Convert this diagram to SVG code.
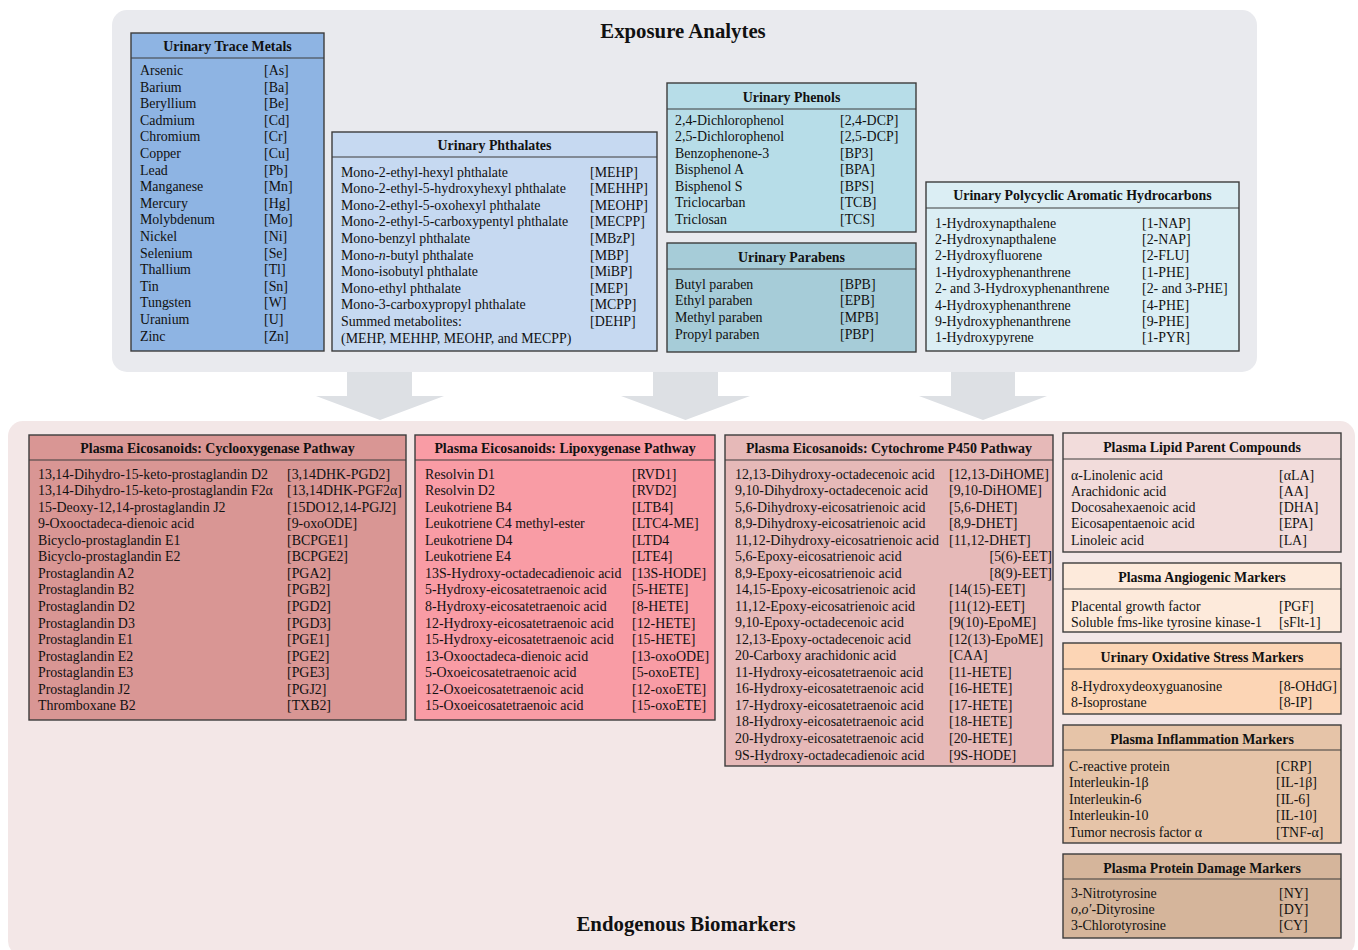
<svg xmlns="http://www.w3.org/2000/svg" width="1358" height="950" viewBox="0 0 1358 950">
<style>
text{font-family:"Liberation Serif","Times New Roman",serif;fill:#111}
.it{font-size:13.9px}
.hd{font-size:13.9px;font-weight:bold;text-anchor:middle}
.pt{font-size:20.8px;font-weight:bold;text-anchor:middle}
.bx{stroke:#3c3c3c;stroke-width:1.4}
.dv{stroke:#3c3c3c;stroke-width:1.2}
.arr{fill:#dde0e4}
.i{font-style:italic}
</style>
<rect x="112" y="10" width="1145" height="362" rx="15" fill="#e9eaee"/>
<rect x="8" y="421" width="1347" height="535" rx="15" fill="#f3e7e7"/>
<g id="connectors">
<polygon class="arr" points="347,372 412,372 412,396 444,396 380,420 316,396 347,396"/>
<polygon class="arr" points="653,372 718,372 718,396 750,396 685.5,420 621,396 653,396"/>
<polygon class="arr" points="951,372 1015,372 1015,396 1047,396 983,420 919,396 951,396"/>
</g>
<text class="pt" x="683" y="38">Exposure Analytes</text>
<text class="pt" x="686" y="931">Endogenous Biomarkers</text>

<g id="trace-metals">
<rect class="bx" x="131" y="33" width="193" height="318" fill="#8eb4e3"/>
<line class="dv" x1="131" y1="58" x2="324" y2="58"/>
<text class="hd" x="227.5" y="50.5">Urinary Trace Metals</text>
<text class="it"><tspan x="140" y="75">Arsenic</tspan><tspan x="140" dy="16.6">Barium</tspan><tspan x="140" dy="16.6">Beryllium</tspan><tspan x="140" dy="16.6">Cadmium</tspan><tspan x="140" dy="16.6">Chromium</tspan><tspan x="140" dy="16.6">Copper</tspan><tspan x="140" dy="16.6">Lead</tspan><tspan x="140" dy="16.6">Manganese</tspan><tspan x="140" dy="16.6">Mercury</tspan><tspan x="140" dy="16.6">Molybdenum</tspan><tspan x="140" dy="16.6">Nickel</tspan><tspan x="140" dy="16.6">Selenium</tspan><tspan x="140" dy="16.6">Thallium</tspan><tspan x="140" dy="16.6">Tin</tspan><tspan x="140" dy="16.6">Tungsten</tspan><tspan x="140" dy="16.6">Uranium</tspan><tspan x="140" dy="16.6">Zinc</tspan></text>
<text class="it"><tspan x="264" y="75">[As]</tspan><tspan x="264" dy="16.6">[Ba]</tspan><tspan x="264" dy="16.6">[Be]</tspan><tspan x="264" dy="16.6">[Cd]</tspan><tspan x="264" dy="16.6">[Cr]</tspan><tspan x="264" dy="16.6">[Cu]</tspan><tspan x="264" dy="16.6">[Pb]</tspan><tspan x="264" dy="16.6">[Mn]</tspan><tspan x="264" dy="16.6">[Hg]</tspan><tspan x="264" dy="16.6">[Mo]</tspan><tspan x="264" dy="16.6">[Ni]</tspan><tspan x="264" dy="16.6">[Se]</tspan><tspan x="264" dy="16.6">[Tl]</tspan><tspan x="264" dy="16.6">[Sn]</tspan><tspan x="264" dy="16.6">[W]</tspan><tspan x="264" dy="16.6">[U]</tspan><tspan x="264" dy="16.6">[Zn]</tspan></text>
</g>

<g id="phthalates">
<rect class="bx" x="332" y="132" width="325" height="219" fill="#c6d9f1"/>
<line class="dv" x1="332" y1="157" x2="657" y2="157"/>
<text class="hd" x="494.5" y="149.5">Urinary Phthalates</text>
<text class="it"><tspan x="341" y="176.5">Mono-2-ethyl-hexyl phthalate</tspan><tspan x="341" dy="16.6">Mono-2-ethyl-5-hydroxyhexyl phthalate</tspan><tspan x="341" dy="16.6">Mono-2-ethyl-5-oxohexyl phthalate</tspan><tspan x="341" dy="16.6">Mono-2-ethyl-5-carboxypentyl phthalate</tspan><tspan x="341" dy="16.6">Mono-benzyl phthalate</tspan><tspan x="341" dy="16.6">Mono-<tspan class="i">n</tspan>-butyl phthalate</tspan><tspan x="341" dy="16.6">Mono-isobutyl phthalate</tspan><tspan x="341" dy="16.6">Mono-ethyl phthalate</tspan><tspan x="341" dy="16.6">Mono-3-carboxypropyl phthalate</tspan><tspan x="341" dy="16.6">Summed metabolites:</tspan><tspan x="341" dy="16.6">(MEHP, MEHHP, MEOHP, and MECPP)</tspan></text>
<text class="it"><tspan x="590" y="176.5">[MEHP]</tspan><tspan x="590" dy="16.6">[MEHHP]</tspan><tspan x="590" dy="16.6">[MEOHP]</tspan><tspan x="590" dy="16.6">[MECPP]</tspan><tspan x="590" dy="16.6">[MBzP]</tspan><tspan x="590" dy="16.6">[MBP]</tspan><tspan x="590" dy="16.6">[MiBP]</tspan><tspan x="590" dy="16.6">[MEP]</tspan><tspan x="590" dy="16.6">[MCPP]</tspan><tspan x="590" dy="16.6">[DEHP]</tspan></text>
</g>

<g id="phenols">
<rect class="bx" x="667" y="83" width="249" height="149" fill="#b7dde8"/>
<line class="dv" x1="667" y1="109" x2="916" y2="109"/>
<text class="hd" x="791.5" y="101.5">Urinary Phenols</text>
<text class="it"><tspan x="675" y="124.5">2,4-Dichlorophenol</tspan><tspan x="675" dy="16.5">2,5-Dichlorophenol</tspan><tspan x="675" dy="16.5">Benzophenone-3</tspan><tspan x="675" dy="16.5">Bisphenol A</tspan><tspan x="675" dy="16.5">Bisphenol S</tspan><tspan x="675" dy="16.5">Triclocarban</tspan><tspan x="675" dy="16.5">Triclosan</tspan></text>
<text class="it"><tspan x="840" y="124.5">[2,4-DCP]</tspan><tspan x="840" dy="16.5">[2,5-DCP]</tspan><tspan x="840" dy="16.5">[BP3]</tspan><tspan x="840" dy="16.5">[BPA]</tspan><tspan x="840" dy="16.5">[BPS]</tspan><tspan x="840" dy="16.5">[TCB]</tspan><tspan x="840" dy="16.5">[TCS]</tspan></text>
</g>

<g id="parabens">
<rect class="bx" x="667" y="243" width="249" height="109" fill="#a6ccd8"/>
<line class="dv" x1="667" y1="269" x2="916" y2="269"/>
<text class="hd" x="791.5" y="261.5">Urinary Parabens</text>
<text class="it"><tspan x="675" y="288.5">Butyl paraben</tspan><tspan x="675" dy="16.7">Ethyl paraben</tspan><tspan x="675" dy="16.7">Methyl paraben</tspan><tspan x="675" dy="16.7">Propyl paraben</tspan></text>
<text class="it"><tspan x="840" y="288.5">[BPB]</tspan><tspan x="840" dy="16.7">[EPB]</tspan><tspan x="840" dy="16.7">[MPB]</tspan><tspan x="840" dy="16.7">[PBP]</tspan></text>
</g>

<g id="pah">
<rect class="bx" x="926" y="182" width="313" height="169" fill="#dbeef4"/>
<line class="dv" x1="926" y1="208" x2="1239" y2="208"/>
<text class="hd" x="1082.5" y="199.5">Urinary Polycyclic Aromatic Hydrocarbons</text>
<text class="it"><tspan x="935" y="227.5">1-Hydroxynapthalene</tspan><tspan x="935" dy="16.4">2-Hydroxynapthalene</tspan><tspan x="935" dy="16.4">2-Hydroxyfluorene</tspan><tspan x="935" dy="16.4">1-Hydroxyphenanthrene</tspan><tspan x="935" dy="16.4">2- and 3-Hydroxyphenanthrene</tspan><tspan x="935" dy="16.4">4-Hydroxyphenanthrene</tspan><tspan x="935" dy="16.4">9-Hydroxyphenanthrene</tspan><tspan x="935" dy="16.4">1-Hydroxypyrene</tspan></text>
<text class="it"><tspan x="1142" y="227.5">[1-NAP]</tspan><tspan x="1142" dy="16.4">[2-NAP]</tspan><tspan x="1142" dy="16.4">[2-FLU]</tspan><tspan x="1142" dy="16.4">[1-PHE]</tspan><tspan x="1142" dy="16.4">[2- and 3-PHE]</tspan><tspan x="1142" dy="16.4">[4-PHE]</tspan><tspan x="1142" dy="16.4">[9-PHE]</tspan><tspan x="1142" dy="16.4">[1-PYR]</tspan></text>
</g>

<g id="cox">
<rect class="bx" x="29" y="435" width="377" height="285" fill="#d99694"/>
<line class="dv" x1="29" y1="460" x2="406" y2="460"/>
<text class="hd" x="217.5" y="452.5">Plasma Eicosanoids: Cyclooxygenase Pathway</text>
<text class="it"><tspan x="38" y="478.5">13,14-Dihydro-15-keto-prostaglandin D2</tspan><tspan x="38" dy="16.57">13,14-Dihydro-15-keto-prostaglandin F2α</tspan><tspan x="38" dy="16.57">15-Deoxy-12,14-prostaglandin J2</tspan><tspan x="38" dy="16.57">9-Oxooctadeca-dienoic acid</tspan><tspan x="38" dy="16.57">Bicyclo-prostaglandin E1</tspan><tspan x="38" dy="16.57">Bicyclo-prostaglandin E2</tspan><tspan x="38" dy="16.57">Prostaglandin A2</tspan><tspan x="38" dy="16.57">Prostaglandin B2</tspan><tspan x="38" dy="16.57">Prostaglandin D2</tspan><tspan x="38" dy="16.57">Prostaglandin D3</tspan><tspan x="38" dy="16.57">Prostaglandin E1</tspan><tspan x="38" dy="16.57">Prostaglandin E2</tspan><tspan x="38" dy="16.57">Prostaglandin E3</tspan><tspan x="38" dy="16.57">Prostaglandin J2</tspan><tspan x="38" dy="16.57">Thromboxane B2</tspan></text>
<text class="it"><tspan x="287" y="478.5">[3,14DHK-PGD2]</tspan><tspan x="287" dy="16.57">[13,14DHK-PGF2α]</tspan><tspan x="287" dy="16.57">[15DO12,14-PGJ2]</tspan><tspan x="287" dy="16.57">[9-oxoODE]</tspan><tspan x="287" dy="16.57">[BCPGE1]</tspan><tspan x="287" dy="16.57">[BCPGE2]</tspan><tspan x="287" dy="16.57">[PGA2]</tspan><tspan x="287" dy="16.57">[PGB2]</tspan><tspan x="287" dy="16.57">[PGD2]</tspan><tspan x="287" dy="16.57">[PGD3]</tspan><tspan x="287" dy="16.57">[PGE1]</tspan><tspan x="287" dy="16.57">[PGE2]</tspan><tspan x="287" dy="16.57">[PGE3]</tspan><tspan x="287" dy="16.57">[PGJ2]</tspan><tspan x="287" dy="16.57">[TXB2]</tspan></text>
</g>

<g id="lox">
<rect class="bx" x="415" y="435" width="300" height="285" fill="#f99ca5"/>
<line class="dv" x1="415" y1="460" x2="715" y2="460"/>
<text class="hd" x="565" y="452.5">Plasma Eicosanoids: Lipoxygenase Pathway</text>
<text class="it"><tspan x="425" y="478.5">Resolvin D1</tspan><tspan x="425" dy="16.57">Resolvin D2</tspan><tspan x="425" dy="16.57">Leukotriene B4</tspan><tspan x="425" dy="16.57">Leukotriene C4 methyl-ester</tspan><tspan x="425" dy="16.57">Leukotriene D4</tspan><tspan x="425" dy="16.57">Leukotriene E4</tspan><tspan x="425" dy="16.57">13S-Hydroxy-octadecadienoic acid</tspan><tspan x="425" dy="16.57">5-Hydroxy-eicosatetraenoic acid</tspan><tspan x="425" dy="16.57">8-Hydroxy-eicosatetraenoic acid</tspan><tspan x="425" dy="16.57">12-Hydroxy-eicosatetraenoic acid</tspan><tspan x="425" dy="16.57">15-Hydroxy-eicosatetraenoic acid</tspan><tspan x="425" dy="16.57">13-Oxooctadeca-dienoic acid</tspan><tspan x="425" dy="16.57">5-Oxoeicosatetraenoic acid</tspan><tspan x="425" dy="16.57">12-Oxoeicosatetraenoic acid</tspan><tspan x="425" dy="16.57">15-Oxoeicosatetraenoic acid</tspan></text>
<text class="it"><tspan x="632" y="478.5">[RVD1]</tspan><tspan x="632" dy="16.57">[RVD2]</tspan><tspan x="632" dy="16.57">[LTB4]</tspan><tspan x="632" dy="16.57">[LTC4-ME]</tspan><tspan x="632" dy="16.57">[LTD4</tspan><tspan x="632" dy="16.57">[LTE4]</tspan><tspan x="632" dy="16.57">[13S-HODE]</tspan><tspan x="632" dy="16.57">[5-HETE]</tspan><tspan x="632" dy="16.57">[8-HETE]</tspan><tspan x="632" dy="16.57">[12-HETE]</tspan><tspan x="632" dy="16.57">[15-HETE]</tspan><tspan x="632" dy="16.57">[13-oxoODE]</tspan><tspan x="632" dy="16.57">[5-oxoETE]</tspan><tspan x="632" dy="16.57">[12-oxoETE]</tspan><tspan x="632" dy="16.57">[15-oxoETE]</tspan></text>
</g>

<g id="cyp450">
<rect class="bx" x="725" y="435" width="328" height="331" fill="#e6b9b8"/>
<line class="dv" x1="725" y1="460" x2="1053" y2="460"/>
<text class="hd" x="889" y="452.5">Plasma Eicosanoids: Cytochrome P450 Pathway</text>
<text class="it"><tspan x="735" y="478.5">12,13-Dihydroxy-octadecenoic acid</tspan><tspan x="735" dy="16.53">9,10-Dihydroxy-octadecenoic acid</tspan><tspan x="735" dy="16.53">5,6-Dihydroxy-eicosatrienoic acid</tspan><tspan x="735" dy="16.53">8,9-Dihydroxy-eicosatrienoic acid</tspan><tspan x="735" dy="16.53">11,12-Dihydroxy-eicosatrienoic acid</tspan><tspan x="735" dy="16.53">5,6-Epoxy-eicosatrienoic acid</tspan><tspan x="735" dy="16.53">8,9-Epoxy-eicosatrienoic acid</tspan><tspan x="735" dy="16.53">14,15-Epoxy-eicosatrienoic acid</tspan><tspan x="735" dy="16.53">11,12-Epoxy-eicosatrienoic acid</tspan><tspan x="735" dy="16.53">9,10-Epoxy-octadecenoic acid</tspan><tspan x="735" dy="16.53">12,13-Epoxy-octadecenoic acid</tspan><tspan x="735" dy="16.53">20-Carboxy arachidonic acid</tspan><tspan x="735" dy="16.53">11-Hydroxy-eicosatetraenoic acid</tspan><tspan x="735" dy="16.53">16-Hydroxy-eicosatetraenoic acid</tspan><tspan x="735" dy="16.53">17-Hydroxy-eicosatetraenoic acid</tspan><tspan x="735" dy="16.53">18-Hydroxy-eicosatetraenoic acid</tspan><tspan x="735" dy="16.53">20-Hydroxy-eicosatetraenoic acid</tspan><tspan x="735" dy="16.53">9S-Hydroxy-octadecadienoic acid</tspan></text>
<text class="it"><tspan x="949" y="478.5">[12,13-DiHOME]</tspan><tspan x="949" dy="16.53">[9,10-DiHOME]</tspan><tspan x="949" dy="16.53">[5,6-DHET]</tspan><tspan x="949" dy="16.53">[8,9-DHET]</tspan><tspan x="949" dy="16.53">[11,12-DHET]</tspan><tspan x="1052" dy="16.53" text-anchor="end">[5(6)-EET]</tspan><tspan x="1052" dy="16.53" text-anchor="end">[8(9)-EET]</tspan><tspan x="949" dy="16.53">[14(15)-EET]</tspan><tspan x="949" dy="16.53">[11(12)-EET]</tspan><tspan x="949" dy="16.53">[9(10)-EpoME]</tspan><tspan x="949" dy="16.53">[12(13)-EpoME]</tspan><tspan x="949" dy="16.53">[CAA]</tspan><tspan x="949" dy="16.53">[11-HETE]</tspan><tspan x="949" dy="16.53">[16-HETE]</tspan><tspan x="949" dy="16.53">[17-HETE]</tspan><tspan x="949" dy="16.53">[18-HETE]</tspan><tspan x="949" dy="16.53">[20-HETE]</tspan><tspan x="949" dy="16.53">[9S-HODE]</tspan></text>
</g>

<g id="lipid-parent">
<rect class="bx" x="1063" y="433" width="278" height="119" fill="#f2dcdb"/>
<line class="dv" x1="1063" y1="459" x2="1341" y2="459"/>
<text class="hd" x="1202" y="451.5">Plasma Lipid Parent Compounds</text>
<text class="it"><tspan x="1071" y="479.5">α-Linolenic acid</tspan><tspan x="1071" dy="16.25">Arachidonic acid</tspan><tspan x="1071" dy="16.25">Docosahexaenoic acid</tspan><tspan x="1071" dy="16.25">Eicosapentaenoic acid</tspan><tspan x="1071" dy="16.25">Linoleic acid</tspan></text>
<text class="it"><tspan x="1279" y="479.5">[αLA]</tspan><tspan x="1279" dy="16.25">[AA]</tspan><tspan x="1279" dy="16.25">[DHA]</tspan><tspan x="1279" dy="16.25">[EPA]</tspan><tspan x="1279" dy="16.25">[LA]</tspan></text>
</g>

<g id="angiogenic">
<rect class="bx" x="1063" y="563" width="278" height="69" fill="#fdeadb"/>
<line class="dv" x1="1063" y1="589" x2="1341" y2="589"/>
<text class="hd" x="1202" y="581.5">Plasma Angiogenic Markers</text>
<text class="it"><tspan x="1071" y="610.5">Placental growth factor</tspan><tspan x="1071" dy="16">Soluble fms-like tyrosine kinase-1</tspan></text>
<text class="it"><tspan x="1279" y="610.5">[PGF]</tspan><tspan x="1279" dy="16">[sFlt-1]</tspan></text>
</g>

<g id="oxidative-stress">
<rect class="bx" x="1063" y="643" width="278" height="71" fill="#fcd5b5"/>
<line class="dv" x1="1063" y1="669" x2="1341" y2="669"/>
<text class="hd" x="1202" y="661.5">Urinary Oxidative Stress Markers</text>
<text class="it"><tspan x="1071" y="690.5">8-Hydroxydeoxyguanosine</tspan><tspan x="1071" dy="16">8-Isoprostane</tspan></text>
<text class="it"><tspan x="1279" y="690.5">[8-OHdG]</tspan><tspan x="1279" dy="16">[8-IP]</tspan></text>
</g>

<g id="inflammation">
<rect class="bx" x="1063" y="725" width="278" height="118" fill="#e6c4a8"/>
<line class="dv" x1="1063" y1="750" x2="1341" y2="750"/>
<text class="hd" x="1202" y="743.5">Plasma Inflammation Markers</text>
<text class="it"><tspan x="1069" y="770.5">C-reactive protein</tspan><tspan x="1069" dy="16.5">Interleukin-1β</tspan><tspan x="1069" dy="16.5">Interleukin-6</tspan><tspan x="1069" dy="16.5">Interleukin-10</tspan><tspan x="1069" dy="16.5">Tumor necrosis factor α</tspan></text>
<text class="it"><tspan x="1276" y="770.5">[CRP]</tspan><tspan x="1276" dy="16.5">[IL-1β]</tspan><tspan x="1276" dy="16.5">[IL-6]</tspan><tspan x="1276" dy="16.5">[IL-10]</tspan><tspan x="1276" dy="16.5">[TNF-α]</tspan></text>
</g>

<g id="protein-damage">
<rect class="bx" x="1063" y="854" width="278" height="84" fill="#d5b59b"/>
<line class="dv" x1="1063" y1="879" x2="1341" y2="879"/>
<text class="hd" x="1202" y="872.5">Plasma Protein Damage Markers</text>
<text class="it"><tspan x="1071" y="897.5">3-Nitrotyrosine</tspan><tspan x="1071" dy="16"><tspan class="i">o,o′</tspan>-Dityrosine</tspan><tspan x="1071" dy="16">3-Chlorotyrosine</tspan></text>
<text class="it"><tspan x="1279" y="897.5">[NY]</tspan><tspan x="1279" dy="16">[DY]</tspan><tspan x="1279" dy="16">[CY]</tspan></text>
</g>
</svg>
